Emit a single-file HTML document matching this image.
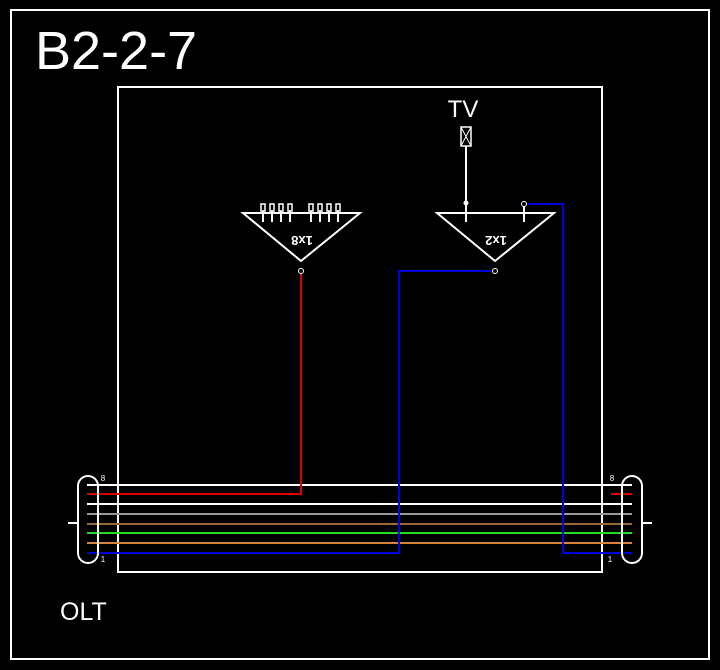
<!DOCTYPE html>
<html><head><style>body{margin:0;background:#000}svg{display:block}</style></head><body>
<svg width="720" height="670" xmlns="http://www.w3.org/2000/svg" font-family="Liberation Sans, sans-serif">
<rect width="720" height="670" fill="#000"/>
<rect x="11" y="10" width="698" height="649" fill="none" stroke="#fff" stroke-width="2"/>
<text x="35" y="69" fill="#fff" font-size="54">B2-2-7</text>
<rect x="118" y="87" width="484" height="485" fill="none" stroke="#fff" stroke-width="2"/>
<text x="463" y="117" fill="#fff" font-size="24" text-anchor="middle">TV</text>
<rect x="461" y="127" width="10" height="19" fill="none" stroke="#fff" stroke-width="1.5"/>
<path d="M461 127L471 146M471 127L461 146" stroke="#fff" stroke-width="1"/>
<line x1="466" y1="146" x2="466" y2="222" stroke="#fff" stroke-width="2"/>
<circle cx="466" cy="203" r="2.5" fill="#fff"/>
<g fill="none" stroke="#fff" stroke-width="2">
<path d="M243 213H360L301 261Z"/>
<path d="M437 213H554L495 261Z"/>
<line x1="524" y1="204" x2="524" y2="222"/>
</g>
<g stroke="#fff" stroke-width="2" fill="none">
<path d="M263 205v17M272 205v17M281 205v17M290 205v17M311 205v17M320 205v17M329 205v17M338 205v17"/>
</g>
<g fill="#000" stroke="#fff" stroke-width="1.5">
<rect x="261" y="204" width="4" height="7"/><rect x="270" y="204" width="4" height="7"/><rect x="279" y="204" width="4" height="7"/><rect x="288" y="204" width="4" height="7"/>
<rect x="309" y="204" width="4" height="7"/><rect x="318" y="204" width="4" height="7"/><rect x="327" y="204" width="4" height="7"/><rect x="336" y="204" width="4" height="7"/>
</g>
<text x="302" y="246" fill="#fff" font-size="13" font-weight="bold" text-anchor="middle" transform="rotate(180 302 241)">1x8</text>
<text x="496" y="246" fill="#fff" font-size="13" font-weight="bold" text-anchor="middle" transform="rotate(180 496 241)">1x2</text>
<g stroke-width="2" fill="none">
<line x1="87" y1="485" x2="632" y2="485" stroke="#fff"/>
<polyline points="87,494 301,494 301,271" stroke="#e00000"/>
<line x1="611" y1="494" x2="632" y2="494" stroke="#e00000"/>
<line x1="87" y1="504" x2="632" y2="504" stroke="#fff"/>
<line x1="87" y1="514" x2="632" y2="514" stroke="#999"/>
<line x1="87" y1="524" x2="632" y2="524" stroke="#9b6a3c"/>
<line x1="87" y1="533" x2="632" y2="533" stroke="#22dd22"/>
<line x1="87" y1="543" x2="632" y2="543" stroke="#d7843a"/>
<polyline points="87,553 399,553 399,271 495,271" stroke="#0000dd"/>
<polyline points="524,204 563,204 563,553 632,553" stroke="#0000dd"/>
</g>
<circle cx="301" cy="271" r="2.5" fill="#000" stroke="#fff" stroke-width="1"/>
<circle cx="495" cy="271" r="2.5" fill="#000" stroke="#fff" stroke-width="1"/>
<circle cx="524" cy="204" r="2.5" fill="#000" stroke="#fff" stroke-width="1"/>
<g fill="none" stroke="#fff" stroke-width="2">
<rect x="78" y="476" width="20" height="87" rx="10"/>
<rect x="622" y="476" width="20" height="87" rx="10"/>
<line x1="68" y1="523" x2="78" y2="523"/>
<line x1="642" y1="523" x2="652" y2="523"/>
</g>
<text x="103" y="481" fill="#fff" font-size="8" text-anchor="middle">8</text>
<text x="612" y="481" fill="#fff" font-size="8" text-anchor="middle">8</text>
<text x="103" y="562" fill="#fff" font-size="8" text-anchor="middle">1</text>
<text x="610" y="562" fill="#fff" font-size="8" text-anchor="middle">1</text>
<text x="60" y="620" fill="#fff" font-size="25">OLT</text>
</svg>
</body></html>
